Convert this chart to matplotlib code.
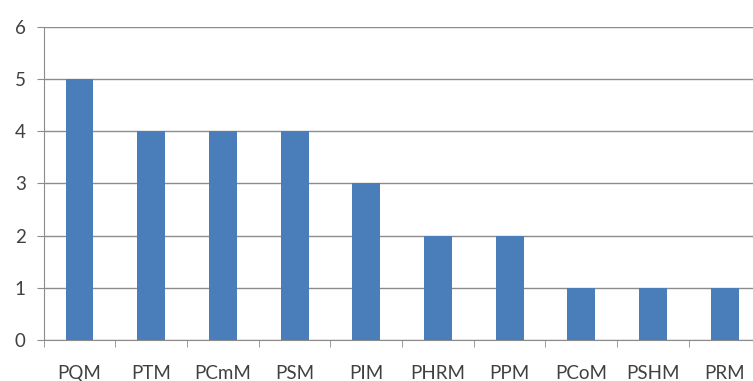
import matplotlib.pyplot as plt
import numpy as np

categories = ["PQM", "PTM", "PCmM", "PSM", "PIM", "PHRM", "PPM", "PCoM", "PSHM", "PRM"]
counts = [5, 4, 4, 4, 3, 2, 2, 1, 1, 1]

plt.rcParams['font.family'] = ['Lato', 'DejaVu Sans']

fig = plt.figure(figsize=(7.53, 3.81), dpi=100)
ax = fig.add_axes([0.058, 0.108, 0.952, 0.821])

x = np.arange(len(categories))
ax.bar(x, counts, width=0.39, color="#4A7EBB", zorder=3)

ax.set_xlim(-0.5, len(categories) - 0.5)
ax.set_ylim(0, 6)
ax.set_yticks(range(0, 7))
ax.yaxis.grid(True, color="#8c8c8c", linewidth=1.0, zorder=0)

# category labels centred, tick marks on the boundaries
ax.set_xticks(x)
ax.set_xticklabels(categories)
ax.set_xticks(np.arange(-0.5, len(categories)), minor=True)
ax.tick_params(axis="x", which="major", length=0, pad=18, labelsize=13.5, colors="#404040")
ax.tick_params(axis="x", which="minor", length=5, color="#8c8c8c")
ax.tick_params(axis="y", length=5, color="#8c8c8c", labelsize=13.5, labelcolor="#404040", pad=8)

for side in ["top", "right"]:
    ax.spines[side].set_visible(False)
ax.spines["left"].set_color("#8c8c8c")
ax.spines["bottom"].set_color("#8c8c8c")

fig.savefig("out.png", dpi=100)
